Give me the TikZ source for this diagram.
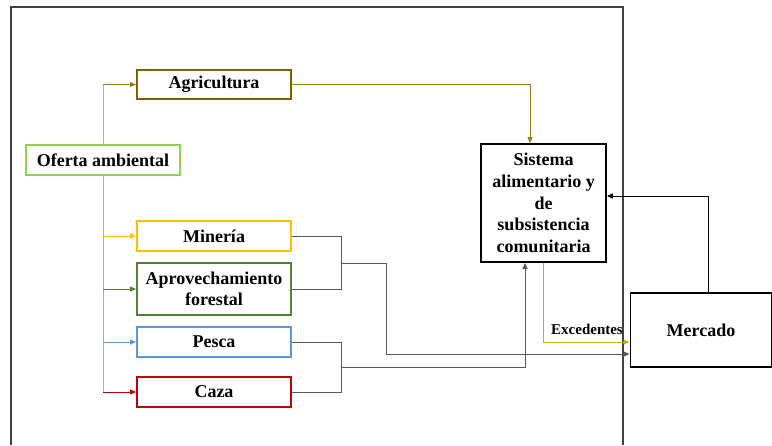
\documentclass[tikz,border=0pt]{standalone}
\usepackage{fontspec}
\setmainfont{Liberation Serif}
\usetikzlibrary{arrows.meta,calc}
\definecolor{agrc}{HTML}{7F6000}
\definecolor{agrl}{HTML}{9C7A1E}
\definecolor{ofec}{HTML}{92D050}
\definecolor{minc}{HTML}{FFC000}
\definecolor{aprc}{HTML}{548235}
\definecolor{pesc}{HTML}{5B9BD5}
\definecolor{cazc}{HTML}{C00000}
\definecolor{excc}{HTML}{D4A52A}
\definecolor{grayl}{HTML}{595959}
\definecolor{framec}{HTML}{404040}
\tikzset{
  box/.style={draw, line width=1.8pt, fill=white, align=center, inner sep=2pt,
    font=\fontsize{18}{21.6}\selectfont\bfseries},
  conn/.style={line width=1pt},
  tip/.style={-{Triangle[length=6pt,width=5pt]}},
}
\begin{document}
\begin{tikzpicture}[x=1pt,y=-1pt]
\useasboundingbox (0,0) rectangle (772,445);
\draw[framec, line width=1.5pt] (11,445) -- (11,7) -- (623,7) -- (623,445);

\node[box, draw=agrc, minimum width=154pt, minimum height=29pt] (agr) at (214,84.5) {Agricultura};
\node[box, draw=ofec, minimum width=154pt, minimum height=30pt] (ofe) at (103,160) {Oferta ambiental};
\node[box, draw=minc, minimum width=154pt, minimum height=30pt] (min) at (214,236) {Minería};
\node[box, draw=aprc, minimum width=154pt, minimum height=52pt] (apr) at (214,289) {Aprovechamiento\\forestal};
\node[box, draw=pesc, minimum width=154pt, minimum height=30pt] (pes) at (214,342) {Pesca};
\node[box, draw=cazc, minimum width=154pt, minimum height=30pt] (caz) at (214,392) {Caza};
\node[box, draw=black, minimum width=125pt, minimum height=118pt] (sis) at (543.5,203) {Sistema\\alimentario y\\de\\subsistencia\\comunitaria};
\node[box, draw=black, minimum width=141pt, minimum height=74pt] (mer) at (701,330) {Mercado};

% green trunk
\draw[ofec, conn] (ofe.north) -- (ofe.north |- agr.west);
\draw[ofec, conn] (ofe.south) -- (ofe.south |- caz.west);
% branches
\draw[agrl, conn, tip] (ofe.north |- agr.west) -- (agr.west);
\draw[minc, conn, tip] (ofe.south |- min.west) -- (min.west);
\draw[aprc, conn, tip] (ofe.south |- apr.west) -- (apr.west);
\draw[pesc, conn, tip] (ofe.south |- pes.west) -- (pes.west);
\draw[cazc, conn, tip] (ofe.south |- caz.west) -- (caz.west);

% agricultura to sistema
\draw[agrl, conn, tip] (agr.east) -| ([xshift=-13.5pt]sis.north);

% brackets
\coordinate (b1) at (341,263);
\coordinate (b2) at (341,367);
\draw[grayl, conn] (min.east) -| (b1);
\draw[grayl, conn] (apr.east) -| (b1);
\draw[grayl, conn, tip] (b1) -- (386,263) |- ([yshift=-24pt]mer.west);
\draw[grayl, conn] (pes.east) -| (b2);
\draw[grayl, conn] (caz.east) -| (b2);
\draw[grayl, conn, tip] (b2) -| ([xshift=-18.5pt]sis.south);

% excedentes
\draw[excc, conn, tip] (sis.south) |- ([yshift=-12pt]mer.west);
\node[font=\fontsize{15}{18}\selectfont\bfseries, inner sep=1pt] (exc) at (587,329) {Excedentes};

% mercado to sistema
\draw[black, conn, tip] ([xshift=7pt]mer.north) |- ([yshift=7pt]sis.east);
\end{tikzpicture}
\end{document}
